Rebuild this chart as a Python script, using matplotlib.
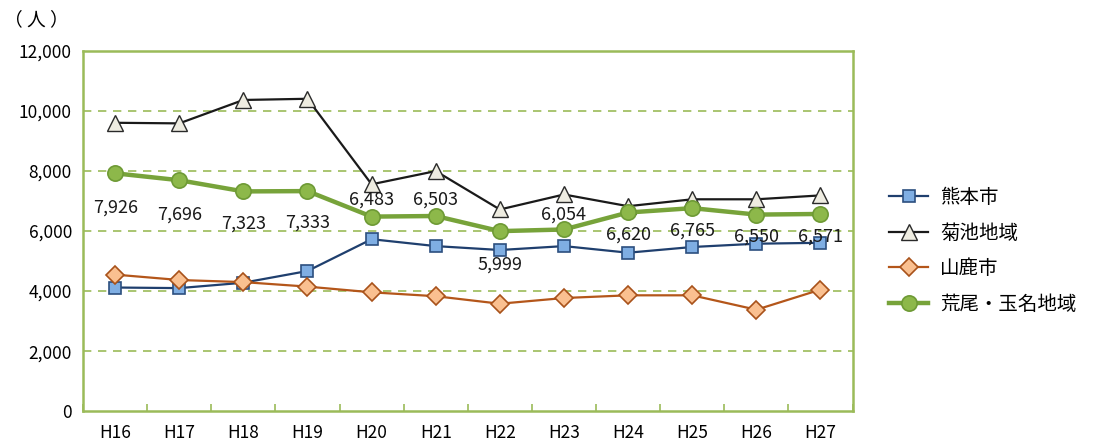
import numpy as np
import matplotlib
matplotlib.use("Agg")
import matplotlib.pyplot as plt

plt.rcParams['font.family'] = ['Noto Sans CJK JP', 'DejaVu Sans']

years = ["H16", "H17", "H18", "H19", "H20", "H21", "H22", "H23", "H24", "H25", "H26", "H27"]
kumamoto = [4120, 4100, 4280, 4670, 5730, 5500, 5370, 5500, 5280, 5470, 5580, 5610]
kikuchi = [9610, 9590, 10370, 10410, 7560, 8000, 6720, 7220, 6830, 7060, 7060, 7190]
yamaga = [4550, 4370, 4300, 4150, 3960, 3830, 3580, 3770, 3860, 3860, 3380, 4050]
arao = [7926, 7696, 7323, 7333, 6483, 6503, 5999, 6054, 6620, 6765, 6550, 6571]
# vertical offset (points) of each 荒尾・玉名 value label
label_off = [-25, -25, -23, -23, 12, 12, -24, 11, -16, -16, -16, -16]

frame_green = "#9BBB59"

fig = plt.figure(figsize=(10.93, 4.44), dpi=100)
ax = fig.add_axes([0.076, 0.074, 0.704, 0.811])
x = np.arange(len(years))

ax.plot(x, kumamoto, color="#1F3F6E", lw=1.6, marker="s", ms=9,
        mfc="#7FAEE3", mec="#2C4F7F", mew=1.2, label="熊本市", zorder=3)
ax.plot(x, kikuchi, color="#1A1A1A", lw=1.6, marker="^", ms=11,
        mfc="#EEECE1", mec="#2A2A2A", mew=1.0, label="菊池地域", zorder=3)
ax.plot(x, yamaga, color="#B4561A", lw=1.6, marker="D", ms=9,
        mfc="#FAC090", mec="#A8521A", mew=1.2, label="山鹿市", zorder=3)
ax.plot(x, arao, color="#77A33A", lw=3.2, marker="o", ms=11,
        mfc="#8DB84A", mec="#6E9A35", mew=1.2, label="荒尾・玉名地域", zorder=4)

for xi, v, off in zip(x, arao, label_off):
    ax.annotate(f"{v:,}", (xi, v), xytext=(0, off), textcoords="offset points",
                ha="center", va="center", fontsize=13, color="#1A1A1A", zorder=5)

ax.set_xlim(-0.5, len(years) - 0.5)
ax.set_ylim(0, 12000)
ax.set_yticks(np.arange(0, 12001, 2000))
ax.set_yticklabels([f"{v:,}" for v in range(0, 12001, 2000)], fontsize=12.5)
ax.set_xticks(x)
ax.set_xticklabels(years, fontsize=12.5)
ax.set_xticks(np.arange(-0.5, len(years), 1), minor=True)
ax.tick_params(axis="x", which="major", length=0, pad=9)
ax.tick_params(axis="x", which="minor", direction="in", length=5, color=frame_green, width=1.2)
ax.tick_params(axis="y", length=0, pad=8)

for g in range(2000, 12000, 2000):
    ax.axhline(g, color=frame_green, lw=1.2, ls=(0, (5, 4)), zorder=1)
for sp in ax.spines.values():
    sp.set_color(frame_green)
    sp.set_linewidth(1.8)

fig.text(0.004, 0.955, "（ 人 ）", fontsize=13.5, va="center", ha="left")

ax.legend(loc="center left", bbox_to_anchor=(1.025, 0.445), frameon=False,
          fontsize=14, handlelength=2.0, labelspacing=0.75, handletextpad=0.6)

fig.savefig("out.png", dpi=100)
